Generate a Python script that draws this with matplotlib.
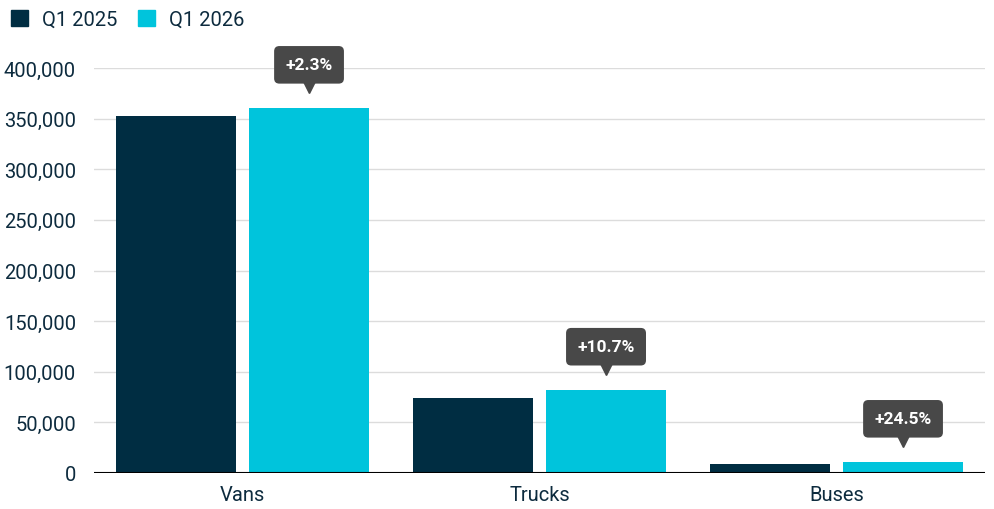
import matplotlib.pyplot as plt
import matplotlib.transforms as mtransforms
from matplotlib.patches import Patch
import numpy as np

plt.rcParams['font.family'] = ['Roboto', 'DejaVu Sans']

categories = ['Vans', 'Trucks', 'Buses']
q1_2025 = [352500, 74300, 8900]
q1_2026 = [360600, 82200, 11000]
changes = ['+2.3%', '+10.7%', '+24.5%']
yticks = [0, 50000, 100000, 150000, 200000, 250000, 300000, 350000, 400000]

dark = '#002d42'
cyan = '#00c4dc'
txt = '#0d2b3e'

fig = plt.figure(figsize=(9.94, 5.10), dpi=100)
ax = fig.add_axes([94 / 994, 1 - 474 / 510, (985 - 94) / 994, (474 - 69) / 510])

x = np.arange(len(categories))
w = 0.404
off = 0.224
ax.bar(x - off, q1_2025, w, color=dark, zorder=2)
ax.bar(x + off, q1_2026, w, color=cyan, zorder=2)

ax.set_xlim(-0.5, 2.5)
ax.set_ylim(0, 400000)
ax.set_yticks(yticks)
ax.set_yticklabels([f'{v:,}' for v in yticks])
ax.set_xticks(x)
ax.set_xticklabels(categories)
ax.tick_params(axis='both', length=0, labelsize=14.5, colors=txt)
ax.tick_params(axis='y', pad=13)
ax.tick_params(axis='x', pad=9)
ax.grid(axis='y', color='#dcdcdc', linewidth=1, zorder=0)
for s in ax.spines.values():
    s.set_visible(False)
ax.axhline(0, color='black', linewidth=1.5, zorder=3)

# callouts above the Q1 2026 bars
for xi, v, lab in zip(x + off, q1_2026, changes):
    tri = mtransforms.offset_copy(ax.transData, fig=fig, x=0, y=15, units='points')
    ax.plot(xi, v, marker='v', markersize=9, color='#484848', transform=tri,
            clip_on=False, zorder=5)
    ax.annotate(lab, (xi, v), xytext=(0, 31), textcoords='offset points',
                ha='center', va='center', fontsize=12.5, fontweight='bold', color='white',
                bbox=dict(boxstyle='round,pad=0.65,rounding_size=0.3', fc='#484848', ec='none'),
                annotation_clip=False, zorder=6)

handles = [Patch(color=dark, label='Q1 2025'), Patch(color=cyan, label='Q1 2026')]
fig.legend(handles=handles, loc='upper left', bbox_to_anchor=(0.0, 1.0), ncol=2,
           frameon=False, fontsize=14.5, labelcolor=txt, handlelength=0.85, handleheight=0.85,
           handletextpad=0.7, columnspacing=1.0, borderaxespad=0.15)

fig.savefig('out.png', dpi=100)
